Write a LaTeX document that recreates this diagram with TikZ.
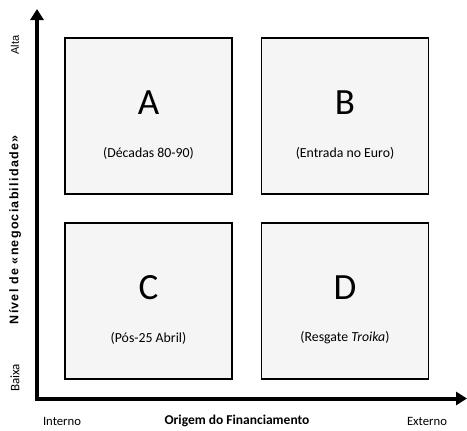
\documentclass[tikz,border=0pt]{standalone}
\usepackage{fontspec}
\setmainfont{Carlito}
\newfontfamily\arialfont{Liberation Sans}
\newfontfamily\arialtitulo{Liberation Sans}[LetterSpace=10]
\usetikzlibrary{arrows.meta}

\begin{document}
\begin{tikzpicture}[x=1pt,y=-1pt,
        quad/.style={draw,line width=1.4pt,fill=black!4,minimum width=167pt,minimum height=156pt,inner sep=0pt},
        letra/.style={font=\fontsize{37}{40}\selectfont},
        periodo/.style={font=\fontsize{13.8}{15}\selectfont}]
        \useasboundingbox (0,0) rectangle (467,431);
        % eixos
        \coordinate (topo) at (37,9);
        \coordinate (origem) at (37,398.5);
        \coordinate (fim) at (467,398.5);
        \draw[line width=4pt,line join=miter,{Triangle[length=11pt,width=13pt]}-{Triangle[length=11pt,width=13pt]}] (topo) -- (origem) -- (fim);
        % quadrantes
        \node[quad] (a) at (148.5,116) {};
        \node[quad] (b) at (345,116) {};
        \node[quad] (c) at (148.5,301) {};
        \node[quad] (d) at (345,301) {};
        \node[letra] (la) at ([yshift=13pt]a.center) {A};
        \node[letra] (lb) at ([yshift=13pt]b.center) {B};
        \node[letra] (lc) at ([yshift=13pt]c.center) {C};
        \node[letra] (ld) at ([yshift=13pt]d.center) {D};
        \node[periodo] (pa) at ([yshift=-37pt]a.center) {(Décadas 80-90)};
        \node[periodo] (pb) at ([yshift=-37pt]b.center) {(Entrada no Euro)};
        \node[periodo] (pc) at ([yshift=-37pt]c.center) {(Pós-25 Abril)};
        \node[periodo] (pd) at ([yshift=-37pt]d.center) {(Resgate \textit{Troika})};
        % rotulos
        \node[rotate=90,font=\arialfont\fontsize{11}{12}\selectfont] (alta) at (15,45) {Alta};
        \node[rotate=90,font=\fontsize{13}{14}\selectfont] (baixa) at (15,378) {Baixa};
        \node[rotate=90,font=\arialtitulo\bfseries\fontsize{12.5}{14}\selectfont] (nivel) at (15,230) {Nível de «negociabilidade»};
        \node[font=\fontsize{12.7}{14}\selectfont] (interno) at (62,421) {Interno};
        \node[font=\bfseries\fontsize{13.5}{15}\selectfont] (orig) at (237,421) {Origem do Financiamento};
        \node[font=\fontsize{12.7}{14}\selectfont] (externo) at (427,421) {Externo};
\end{tikzpicture}
\end{document}
